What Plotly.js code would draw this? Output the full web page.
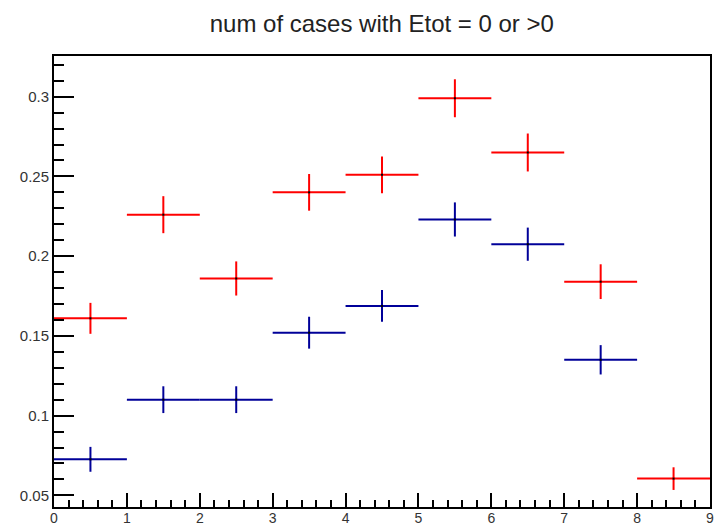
<!DOCTYPE html>
<html>
<head>
<meta charset="utf-8">
<script src="https://cdn.plot.ly/plotly-3.0.1.min.js"></script>
<style>
  html, body { margin: 0; padding: 0; background: #fff; }
  #chart { width: 715px; height: 527px; }
</style>
</head>
<body>
<div id="chart"></div>
<script>
// Bin centres (bins of width 1 from 0 to 9)
const binCenters = [0.5, 1.5, 2.5, 3.5, 4.5, 5.5, 6.5, 7.5, 8.5];
const binHalfWidth = 0.5;

// Fraction of cases, Etot > 0 (red)
const redValues = [0.161, 0.226, 0.186, 0.240, 0.251, 0.299, 0.265, 0.184, 0.0605];
const redErrors = [0.0097, 0.0116, 0.0107, 0.0115, 0.0115, 0.0119, 0.0119, 0.0109, 0.0071];

// Fraction of cases, Etot = 0 (blue); last bin empty
const blueCenters = [0.5, 1.5, 2.5, 3.5, 4.5, 5.5, 6.5, 7.5];
const blueValues = [0.0726, 0.110, 0.110, 0.152, 0.1688, 0.223, 0.2075, 0.135];
const blueErrors = [0.0078, 0.0084, 0.0084, 0.0100, 0.0099, 0.0107, 0.0104, 0.0092];

const titleText = 'num of cases with Etot = 0 or >0';

function histTrace(x, y, err, color) {
  return {
    type: 'scatter',
    mode: 'markers',
    x: x,
    y: y,
    marker: { color: '#000', size: 2, symbol: 'square' },
    error_x: { type: 'constant', value: binHalfWidth, width: 0, thickness: 2, color: color },
    error_y: { type: 'data', array: err, visible: true, width: 0, thickness: 2, color: color },
    hoverinfo: 'x+y',
    showlegend: false
  };
}

const data = [
  histTrace(binCenters, redValues, redErrors, '#ff0000'),
  histTrace(blueCenters, blueValues, blueErrors, '#000099')
];

const labelFamily = 'Liberation Sans, Arial, sans-serif';

const layout = {
  width: 715,
  height: 527,
  margin: { l: 54, r: 5, t: 56, b: 20, pad: 0 },
  paper_bgcolor: '#fff',
  plot_bgcolor: '#fff',
  title: {
    text: titleText,
    font: { family: labelFamily, size: 24, color: '#222' },
    x: 0.534, xanchor: 'center',
    y: 0.956, yanchor: 'middle'
  },
  xaxis: {
    range: [0, 9],
    dtick: 1,
    tick0: 0,
    ticks: 'inside',
    ticklen: 14,
    tickwidth: 2,
    tickcolor: '#000',
    minor: { dtick: 0.2, ticks: 'inside', ticklen: 7, tickwidth: 2, tickcolor: '#000' },
    showline: true,
    linecolor: '#000',
    linewidth: 2,
    mirror: true,
    showgrid: false,
    zeroline: false,
    ticklabelstandoff: -3,
    tickfont: { family: labelFamily, size: 14, color: '#333' }
  },
  yaxis: {
    range: [0.0427, 0.3255],
    dtick: 0.05,
    tick0: 0,
    ticks: 'inside',
    ticklen: 20,
    tickwidth: 2,
    tickcolor: '#000',
    minor: { dtick: 0.01, ticks: 'inside', ticklen: 10, tickwidth: 2, tickcolor: '#000' },
    showline: true,
    linecolor: '#000',
    linewidth: 2,
    mirror: true,
    showgrid: false,
    zeroline: false,
    tickfont: { family: labelFamily, size: 15, color: '#333' }
  }
};

Plotly.newPlot('chart', data, layout, { displayModeBar: false, staticPlot: true });
</script>
</body>
</html>
